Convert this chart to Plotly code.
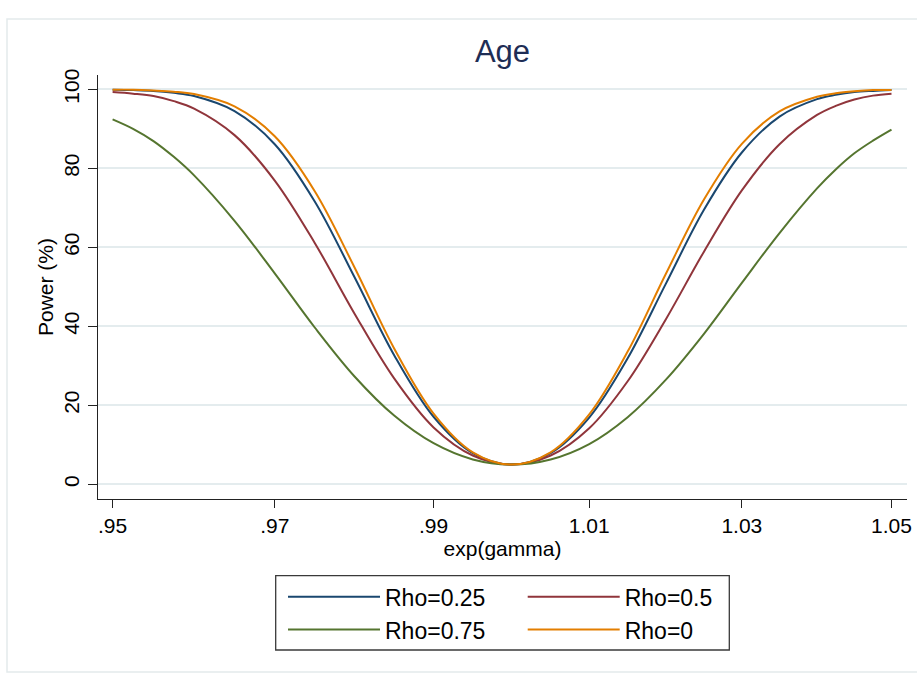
import plotly.graph_objects as go

# exp(gamma) grid
gamma_exp = [0.950, 0.9525, 0.955, 0.9575, 0.960, 0.965, 0.970, 0.975, 0.980, 0.985, 0.990, 0.995, 1.000,
             1.005, 1.010, 1.015, 1.020, 1.025, 1.030, 1.035, 1.040, 1.0425, 1.045, 1.0475, 1.050]

# Power (%)
power_rho025 = [99.9, 99.8, 99.6, 99.1, 98.3, 94.5, 86.1, 71.6, 52.4, 32.7, 17.1, 7.9, 5.0,
                7.9, 16.9, 31.9, 50.8, 69.5, 84.0, 93.1, 97.5, 98.6, 99.3, 99.6, 99.8]
power_rho05 = [99.3, 98.9, 98.3, 97.0, 95.1, 88.4, 76.9, 61.1, 43.2, 26.8, 14.4, 7.3, 5.0,
               7.3, 14.2, 26.1, 41.8, 58.9, 74.4, 86.1, 93.5, 95.8, 97.4, 98.4, 98.9]
power_rho075 = [92.4, 90.0, 86.9, 82.9, 78.2, 66.7, 53.4, 39.7, 27.3, 17.4, 10.4, 6.3, 5.0,
                6.3, 10.2, 17.0, 26.5, 38.1, 51.0, 63.6, 74.9, 79.7, 83.8, 87.0, 89.8]
power_rho0 = [99.9, 99.9, 99.7, 99.4, 98.8, 95.7, 88.1, 74.2, 54.9, 34.4, 17.9, 8.1, 5.0,
              8.1, 17.7, 33.6, 53.3, 72.1, 86.2, 94.4, 98.1, 99.0, 99.5, 99.8, 99.8]

series_names = ["Rho=0.25", "Rho=0.5", "Rho=0.75", "Rho=0"]
series_values = [power_rho025, power_rho05, power_rho075, power_rho0]
series_colors = ["#1a476f", "#90353b", "#55752f", "#e37e00"]
series_legend = ["legend", "legend2", "legend", "legend2"]

x_tickvals = [0.95, 0.97, 0.99, 1.01, 1.03, 1.05]
x_ticktext = [".95", ".97", ".99", "1.01", "1.03", "1.05"]
y_tickvals = [0, 20, 40, 60, 80, 100]

FONT = "Liberation Sans, Arial, sans-serif"

fig = go.Figure()
for name, vals, col, lg in zip(series_names, series_values, series_colors, series_legend):
    fig.add_trace(go.Scatter(
        x=gamma_exp, y=vals, mode="lines", name=name,
        line=dict(color=col, width=2, shape="spline", smoothing=1.0),
        legend=lg, hoverinfo="x+y+name"))

legend_common = dict(
    xanchor="left", yanchor="top", orientation="v",
    bgcolor="rgba(0,0,0,0)", borderwidth=0,
    font=dict(family=FONT, size=23, color="#000000"),
    itemwidth=92, traceorder="normal")

fig.update_layout(
    width=917, height=675,
    margin=dict(l=98, r=10, t=75, b=176, autoexpand=False),
    paper_bgcolor="white", plot_bgcolor="white",
    font=dict(family=FONT, color="#000000"),
    title=dict(text="Age", x=0.5, xref="paper", xanchor="center",
               y=0.9244, yref="container", yanchor="middle",
               font=dict(family=FONT, size=31, color="#1e2d55")),
    xaxis=dict(
        type="log", range=[-0.023091, 0.022054],
        tickvals=x_tickvals, ticktext=x_ticktext,
        ticks="outside", ticklen=8, tickwidth=1.3, tickcolor="#222222",
        showline=True, linecolor="#222222", linewidth=1.3,
        showgrid=False, zeroline=False,
        tickfont=dict(family=FONT, size=21, color="#000000"),
        title=dict(text="exp(gamma)", font=dict(family=FONT, size=21, color="#000000"), standoff=4),
    ),
    yaxis=dict(
        range=[-3.72, 103.62], tickvals=y_tickvals, tickangle=-90,
        ticks="outside", ticklen=9, tickwidth=1.3, tickcolor="#222222",
        showline=True, linecolor="#222222", linewidth=1.3,
        showgrid=True, gridcolor="#e4ecee", gridwidth=1.5, zeroline=False,
        tickfont=dict(family=FONT, size=21, color="#000000"),
        title=dict(text="Power (%)", font=dict(family=FONT, size=21, color="#000000"), standoff=1),
    ),
    legend=dict(x=0.22868, y=-0.17983, **legend_common),
    legend2=dict(x=0.52497, y=-0.17983, **legend_common),
    shapes=[
        dict(type="rect", xref="paper", yref="paper",
             x0=0.21965, x1=0.78035, y0=-0.35613, y1=-0.18090,
             line=dict(color="#3a3a3a", width=1.3), fillcolor="rgba(0,0,0,0)", layer="above"),
        dict(type="rect", xref="paper", yref="paper",
             x0=-0.11248, x1=1.0284, y0=-0.40802, y1=1.13208,
             line=dict(color="#e3eaec", width=1.5), fillcolor="rgba(0,0,0,0)", layer="below"),
    ],
    showlegend=True,
)

fig.write_html("out.html")
